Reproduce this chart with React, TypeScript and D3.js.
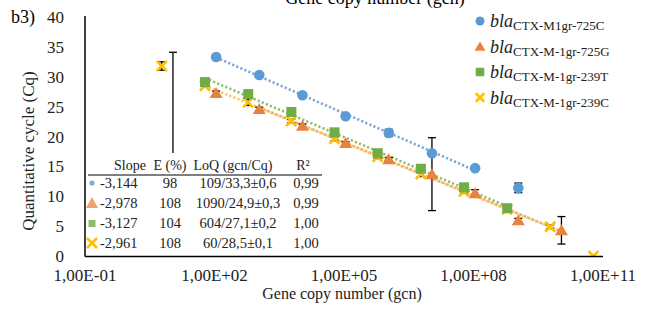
import React from 'react';
import * as d3 from 'd3';

// series: gene copy number (x) and Cq (y) with error bars
const blueX = [109, 1090, 1.09e4, 1.09e5, 1.09e6, 1.09e7, 1.09e8, 1.09e9];
const blueCq = [33.3, 30.3, 26.9, 23.4, 20.6, 17.2, 14.7, 11.4];
const blueErr = [0.4, 0.2, 0.2, 0.2, 0.6, 0.2, 0.2, 0.8];

const orangeX = [10.9, 109, 1090, 1.09e4, 1.09e5, 1.09e6, 1.09e7, 1.09e8, 1.09e9, 1.09e10];
const orangeCq = [15.0, 27.3, 24.6, 21.8, 18.9, 16.2, 13.7, 10.5, 6.0, 4.3];
const orangeErr = [19.1, 0.3, 0.3, 0.3, 0.2, 0.3, 6.1, 0.6, 0.3, 2.3];

const greenX = [60.4, 604, 6040, 6.04e4, 6.04e5, 6.04e6, 6.04e7, 6.04e8];
const greenCq = [29.1, 27.1, 24.1, 20.7, 17.2, 14.6, 11.5, 8.0];
const greenErr = [0.2, 0.2, 0.2, 0.2, 0.2, 0.2, 0.3, 0.2];

const yellowX = [6, 60, 600, 6000, 6e4, 6e5, 6e6, 6e7, 6e8, 6e9, 6e10];
const yellowCq = [31.8, 28.5, 25.7, 22.6, 19.6, 16.6, 13.7, 10.8, 7.8, 4.9, 0];
const yellowErr = [0.7, 0.1, 0.5, 0.3, 0.3, 0.3, 0.4, 0.3, 0.3, 0.3, 0];

// points used for each trendline [first, last] index
const blueFit = [0, 6];
const orangeFit = [2, 9];
const greenFit = [0, 7];
const yellowFit = [1, 9];

const seriesNames = ['CTX-M1gr-725C', 'CTX-M-1gr-725G', 'CTX-M-1gr-239T', 'CTX-M-1gr-239C'];
const seriesColors = ['#5B9BD5', '#E8833F', '#70AD47', '#FFC000'];
const lineColors = ['#7FA6D4', '#F0A070', '#8FBF6A', '#F5C85A'];

const xTicks = [1e-1, 1e2, 1e5, 1e8, 1e11];
const xTickLabels = ['1,00E-01', '1,00E+02', '1,00E+05', '1,00E+08', '1,00E+11'];
const yTicks = [0, 5, 10, 15, 20, 25, 30, 35, 40];

const tableHeader = ['Slope', 'E (%)', 'LoQ (gcn/Cq)', 'R²'];
const tableSlope = ['-3,144', '-2,978', '-3,127', '-2,961'];
const tableE = ['98', '108', '104', '108'];
const tableLoQ = ['109/33,3±0,6', '1090/24,9±0,3', '604/27,1±0,2', '60/28,5±0,1'];
const tableR2 = ['0,99', '0,99', '1,00', '1,00'];

const font = 'Liberation Serif, DejaVu Serif, serif';

function fit(xs, ys, range) {
  const px = xs.slice(range[0], range[1] + 1).map((v) => Math.log10(v));
  const py = ys.slice(range[0], range[1] + 1);
  const mx = d3.mean(px), my = d3.mean(py);
  const slope = d3.sum(px, (v, i) => (v - mx) * (py[i] - my)) / d3.sum(px, (v) => (v - mx) ** 2);
  const b = my - slope * mx;
  return [px[0], px[px.length - 1]].map((l) => [Math.pow(10, l), b + slope * l]);
}

function Marker({ kind, x, y, color, s = 1 }) {
  if (kind === 0) return <circle cx={x} cy={y} r={5.3 * s} fill={color} />;
  if (kind === 1) return <path d={`M${x},${y - 6 * s}L${x + 6.5 * s},${y + 5 * s}L${x - 6.5 * s},${y + 5 * s}Z`} fill={color} />;
  if (kind === 2) return <rect x={x - 5 * s} y={y - 5 * s} width={10 * s} height={10 * s} fill={color} />;
  return (
    <g stroke={color} strokeWidth={2.6}>
      <line x1={x - 5 * s} y1={y - 5 * s} x2={x + 5 * s} y2={y + 5 * s} />
      <line x1={x - 5 * s} y1={y + 5 * s} x2={x + 5 * s} y2={y - 5 * s} />
    </g>
  );
}

export default function App() {
  const x = d3.scaleLog().domain([1e-1, 1e11]).range([85, 603]);
  const y = d3.scaleLinear().domain([0, 40]).range([256, 17]);

  const series = [
    { xs: blueX, ys: blueCq, err: blueErr, fitR: blueFit },
    { xs: orangeX, ys: orangeCq, err: orangeErr, fitR: orangeFit },
    { xs: greenX, ys: greenCq, err: greenErr, fitR: greenFit },
    { xs: yellowX, ys: yellowCq, err: yellowErr, fitR: yellowFit },
  ];
  const line = d3.line().x((d) => x(d[0])).y((d) => y(d[1]));
  const drawOrder = [3, 1, 2, 0];

  const rowY = [188, 208, 228, 248];

  return (
    <svg width={651} height={311} fontFamily={font} style={{ position: 'absolute', left: 0, top: 0, background: '#fff' }}>
      <defs>
        <clipPath id="plot"><rect x={85} y={10} width={530} height={246} /></clipPath>
      </defs>
      <text x={375} y={4} textAnchor="middle" fontSize={18}>Gene copy number (gcn)</text>
      <text x={11} y={23} fontSize={18}>b3)</text>

      <g clipPath="url(#plot)">
        {/* trendlines */}
        {series.map((s, i) => (
          <path key={'t' + i} d={line(fit(s.xs, s.ys, s.fitR))} fill="none" stroke={lineColors[i]}
            strokeWidth={2.6} strokeDasharray="2.2,2.2" />
        ))}

        {/* error bars under markers */}
        {drawOrder.map((i) => {
          const s = series[i];
          return (
            <g key={'s' + i}>
              {s.xs.map((v, j) => s.err[j] > 0 && (
                <g key={'e' + j} stroke="#000" strokeWidth={1.3}>
                  <line x1={x(v)} x2={x(v)} y1={y(s.ys[j] + s.err[j])} y2={y(s.ys[j] - s.err[j])} />
                  <line x1={x(v) - 4} x2={x(v) + 4} y1={y(s.ys[j] + s.err[j])} y2={y(s.ys[j] + s.err[j])} />
                  <line x1={x(v) - 4} x2={x(v) + 4} y1={y(s.ys[j] - s.err[j])} y2={y(s.ys[j] - s.err[j])} />
                </g>
              ))}
              {s.xs.map((v, j) => (
                <Marker key={j} kind={i} x={x(v)} y={y(s.ys[j])} color={seriesColors[i]} />
              ))}
            </g>
          );
        })}
      </g>

      {/* data table overlay */}
      <rect x={85} y={153} width={238} height={103} fill="#fff" />
      <g fontSize={14.5} fill="#222">
        <g fontSize={14}>
          <text x={130} y={170} textAnchor="middle">{tableHeader[0]}</text>
          <text x={170} y={170} textAnchor="middle">{tableHeader[1]}</text>
          <text x={233} y={170} textAnchor="middle">{tableHeader[2]}</text>
          <text x={303} y={170} textAnchor="middle">{tableHeader[3]}</text>
        </g>
        <line x1={88} x2={322} y1={175} y2={175} stroke="#808080" strokeWidth={2} />
        {rowY.map((ry, i) => (
          <g key={'r' + i}>
            {i === 0 ? <circle cx={92} cy={ry - 5} r={2.6} fill={seriesColors[0]} opacity={0.8} />
              : i === 1 ? <path d={`M92,${ry - 11}L98,${ry}L86,${ry}Z`} fill={seriesColors[1]} opacity={0.75} />
              : i === 2 ? <rect x={88.5} y={ry - 8} width={7} height={7} fill={seriesColors[2]} opacity={0.8} />
              : <Marker kind={3} x={92} y={ry - 5} color={seriesColors[3]} />}
            <text x={100} y={ry}>{tableSlope[i]}</text>
            <text x={170} y={ry} textAnchor="middle">{tableE[i]}</text>
            <text x={238} y={ry} textAnchor="middle">{tableLoQ[i]}</text>
            <text x={306} y={ry} textAnchor="middle">{tableR2[i]}</text>
          </g>
        ))}
      </g>

      {/* axes */}
      <line x1={85} x2={85} y1={16} y2={256.5} stroke="#000" strokeWidth={1.5} />
      <line x1={85} x2={603} y1={256.5} y2={256.5} stroke="#000" strokeWidth={1.5} />
      <g fontSize={17} fill="#222">
        {yTicks.map((t) => (
          <text key={t} x={64} y={y(t) + 6} textAnchor="end">{t}</text>
        ))}
        {xTicks.map((t, i) => (
          <text key={t} x={x(t)} y={281} textAnchor="middle">{xTickLabels[i]}</text>
        ))}
        <text x={342} y={299} textAnchor="middle" fontSize={16}>Gene copy number (gcn)</text>
        <text transform="translate(34,151) rotate(-90)" textAnchor="middle">Quantitative cycle (Cq)</text>
      </g>

      {/* legend */}
      {seriesNames.map((n, i) => {
        const cy = 21 + i * 25.5;
        return (
          <g key={'l' + i}>
            <Marker kind={i} x={480} y={cy} color={seriesColors[i]} s={0.85} />
            <text x={490} y={cy + 6} fill="#222">
              <tspan fontStyle="italic" fontSize={18}>bla</tspan>
              <tspan fontSize={13} dy={3}>{n}</tspan>
            </text>
          </g>
        );
      })}
    </svg>
  );
}
